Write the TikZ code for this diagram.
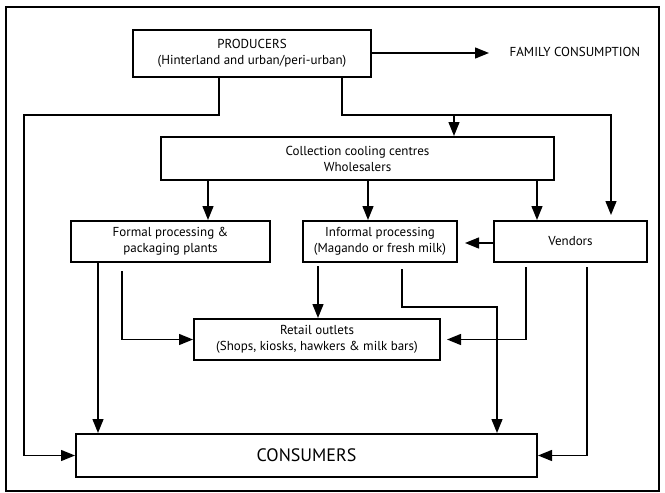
\documentclass[tikz,border=0pt]{standalone}
\usepackage{fontspec}
\setmainfont{PT Sans}
\usetikzlibrary{arrows.meta}

\begin{document}
\begin{tikzpicture}[x=1pt, y=-1pt, line width=1.3pt,
    box/.style={draw, line width=2pt, inner sep=0pt, align=center, font=\fontsize{13}{16}\selectfont},
    arr/.style={-{Triangle[length=14pt,width=11pt]}}]
    \useasboundingbox (0,0) rectangle (665,493);
    \draw[line width=1.8pt] (6,7) rectangle (659,491);
    % boxes
    \node[box, minimum width=238pt, minimum height=47pt] (prod) at (252,53) {PRODUCERS\\(Hinterland and urban/peri-urban)};
    \node[anchor=west, inner sep=0pt, font=\fontsize{13}{16}\selectfont] (fam) at (509,52) {FAMILY CONSUMPTION};
    \node[box, minimum width=393pt, minimum height=43pt] (coll) at (357.5,158.5) {Collection cooling centres\\Wholesalers};
    \node[box, minimum width=199pt, minimum height=41pt] (formal) at (170.5,241.5) {Formal processing \&\\packaging plants};
    \node[box, minimum width=154pt, minimum height=41pt] (inf) at (380,241.5) {Informal processing\\(Magando or fresh milk)};
    \node[box, minimum width=153pt, minimum height=41pt] (vend) at (570.5,241.5) {Vendors};
    \node[box, minimum width=246pt, minimum height=41pt] (retail) at (317,339.5) {Retail outlets\\(Shops, kiosks, hawkers \& milk bars)};
    \node[box, minimum width=461pt, minimum height=43pt, font=\fontsize{18}{20}\selectfont] (cons) at (306.5,455.5) {CONSUMERS};
    \coordinate (famtip) at (489,53);
    % connectors
    \draw[arr] (prod.east) -- (famtip);
    \draw[arr] (prod.south -| 219,0) |- (24,115) |- (cons.west);
    \draw[arr, shorten >=5pt] (prod.south -| 342,0) |- (611,115) -- (vend.north -| 611,0);
    \draw[arr] (454,115) -- (coll.north -| 454,0);
    \draw[arr] (coll.south -| 208,0) -- (formal.north -| 208,0);
    \draw[arr] (coll.south -| 368,0) -- (inf.north -| 368,0);
    \draw[arr] (coll.south -| 537,0) -- (vend.north -| 537,0);
    \draw[arr, shorten >=7pt] (vend.west |- 0,243) -- (inf.east |- 0,243);
    \draw[arr] (formal.south -| 98,0) -- (cons.north -| 98,0);
    \draw[arr, shorten <=8pt] (formal.south -| 122,0) |- (retail.west);
    \draw[arr, shorten <=3pt] (inf.south -| 318,0) -- (retail.north -| 318,0);
    \draw[arr, shorten <=6pt] (inf.south -| 402,0) -- (402,307) -| (cons.north -| 497,0);
    \draw[arr, shorten <=4pt, shorten >=6pt] (vend.south -| 526,0) |- (retail.east);
    \draw[arr, shorten <=4pt] (vend.south -| 587,0) |- (cons.east);
\end{tikzpicture}
\end{document}
